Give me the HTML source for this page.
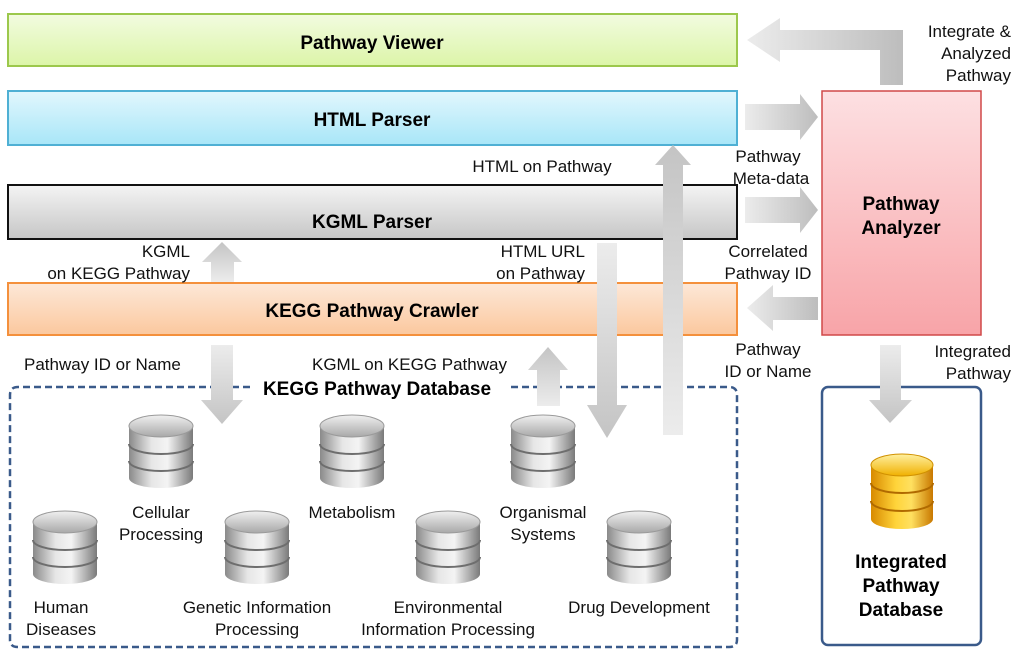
<!DOCTYPE html>
<html><head><meta charset="utf-8"><style>
html,body{margin:0;padding:0;background:#fff;}
svg text{font-family:"Liberation Sans",sans-serif;}
</style></head><body>
<svg width="1024" height="661" viewBox="0 0 1024 661" xmlns="http://www.w3.org/2000/svg">
<defs>
<linearGradient id="gG" x1="0" y1="0" x2="0" y2="1"><stop offset="0" stop-color="#f2fbe0"/><stop offset="1" stop-color="#dcf5a8"/></linearGradient>
<linearGradient id="gB" x1="0" y1="0" x2="0" y2="1"><stop offset="0" stop-color="#e2f7fd"/><stop offset="1" stop-color="#a8e6f8"/></linearGradient>
<linearGradient id="gK" x1="0" y1="0" x2="0" y2="1"><stop offset="0" stop-color="#f4f4f4"/><stop offset="1" stop-color="#c6c6c6"/></linearGradient>
<linearGradient id="gO" x1="0" y1="0" x2="0" y2="1"><stop offset="0" stop-color="#fde8d8"/><stop offset="1" stop-color="#fbc89e"/></linearGradient>
<linearGradient id="gP" x1="0" y1="0" x2="0" y2="1"><stop offset="0" stop-color="#fde0e2"/><stop offset="1" stop-color="#f8a4a8"/></linearGradient>
<linearGradient id="ah" x1="0" y1="0" x2="1" y2="0"><stop offset="0" stop-color="#ececec"/><stop offset="1" stop-color="#bdbdbd"/></linearGradient>
<linearGradient id="ahl" x1="1" y1="0" x2="0" y2="0"><stop offset="0" stop-color="#bdbdbd"/><stop offset="1" stop-color="#ececec"/></linearGradient>
<linearGradient id="av" x1="0" y1="0" x2="0" y2="1"><stop offset="0" stop-color="#c4c4c4"/><stop offset="1" stop-color="#ececec"/></linearGradient>
<linearGradient id="avd" x1="0" y1="0" x2="0" y2="1"><stop offset="0" stop-color="#ececec"/><stop offset="1" stop-color="#c4c4c4"/></linearGradient>
<linearGradient id="cyl" x1="0" y1="0" x2="1" y2="0"><stop offset="0" stop-color="#8a8a8a"/><stop offset="0.35" stop-color="#e6e6e6"/><stop offset="0.6" stop-color="#f4f4f4"/><stop offset="1" stop-color="#7a7a7a"/></linearGradient>
<linearGradient id="cylt" x1="0" y1="0" x2="0" y2="1"><stop offset="0" stop-color="#f0f0f0"/><stop offset="1" stop-color="#a8a8a8"/></linearGradient>
<linearGradient id="gold" x1="0" y1="0" x2="1" y2="0"><stop offset="0" stop-color="#d88a00"/><stop offset="0.4" stop-color="#ffd43a"/><stop offset="0.65" stop-color="#ffe060"/><stop offset="1" stop-color="#c87800"/></linearGradient>
<linearGradient id="goldt" x1="0" y1="0" x2="0" y2="1"><stop offset="0" stop-color="#fff0a0"/><stop offset="1" stop-color="#f0b000"/></linearGradient>
<g id="cy">
<path d="M-32,-26 L-32,26 A32,10 0 0 0 32,26 L32,-26 Z" fill="url(#cyl)"/>
<path d="M-32,-8 A32,10 0 0 0 32,-8 M-32,9 A32,10 0 0 0 32,9" fill="none" stroke="#6e6e6e" stroke-width="2"/>
<ellipse cx="0" cy="-26" rx="32" ry="11" fill="url(#cylt)" stroke="#9a9a9a" stroke-width="1"/>
</g>
</defs>

<!-- layer boxes -->
<rect x="8" y="14" width="729" height="52" fill="url(#gG)" stroke="#9cc84c" stroke-width="2"/>
<text x="372" y="49" font-size="19" font-weight="bold" text-anchor="middle">Pathway Viewer</text>
<rect x="8" y="91" width="729" height="54" fill="url(#gB)" stroke="#4fb0d4" stroke-width="2"/>
<text x="372" y="126" font-size="19" font-weight="bold" text-anchor="middle">HTML Parser</text>
<rect x="8" y="185" width="729" height="54" fill="url(#gK)" stroke="#111" stroke-width="2"/>
<text x="372" y="228" font-size="19" font-weight="bold" text-anchor="middle">KGML Parser</text>
<rect x="8" y="283" width="729" height="52" fill="url(#gO)" stroke="#f4903c" stroke-width="2"/>
<text x="372" y="317" font-size="19" font-weight="bold" text-anchor="middle">KEGG Pathway Crawler</text>

<rect x="822" y="91" width="159" height="244" fill="url(#gP)" stroke="#d04848" stroke-width="1.5"/>
<text x="901" y="210" font-size="19" font-weight="bold" text-anchor="middle">Pathway</text>
<text x="901" y="234" font-size="19" font-weight="bold" text-anchor="middle">Analyzer</text>

<!-- KEGG DB -->
<path d="M250,387 L18,387 Q10,387 10,395 L10,640 Q10,647 18,647 L729,647 Q737,647 737,640 L737,395 Q737,387 729,387 L508,387" fill="none" stroke="#3a5a8a" stroke-width="2.5" stroke-dasharray="7,4"/>
<text x="377" y="395" font-size="19" font-weight="bold" text-anchor="middle">KEGG Pathway Database</text>

<!-- Integrated DB -->
<rect x="822" y="387" width="159" height="258" rx="6" fill="#fff" stroke="#3a5a8a" stroke-width="2.5"/>

<!-- arrows -->
<path d="M880,85 L880,50 L780,50 L780,62 L747,40 L780,18 L780,30 L903,30 L903,85 Z" fill="url(#ahl)"/>
<path d="M745,104 L800,104 L800,94 L818,117 L800,140 L800,130 L745,130 Z" fill="url(#ah)"/>
<path d="M745,197 L800,197 L800,187 L818,210 L800,233 L800,223 L745,223 Z" fill="url(#ah)"/>
<path d="M818,297 L773,297 L773,285 L747,308 L773,331 L773,320 L818,320 Z" fill="url(#ahl)"/>
<path d="M211,282 L211,262 L202,262 L222,242 L242,262 L234,262 L234,282 Z" fill="url(#av)"/>
<path d="M663,435 L663,165 L655,165 L673,145 L691,165 L683,165 L683,435 Z" fill="url(#av)"/>
<path d="M597,243 L617,243 L617,405 L627,405 L607,438 L587,405 L597,405 Z" fill="url(#avd)"/>
<path d="M211,345 L233,345 L233,400 L243,400 L222,424 L201,400 L211,400 Z" fill="url(#avd)"/>
<path d="M537,406 L537,370 L528,370 L548,347 L568,370 L560,370 L560,406 Z" fill="url(#av)"/>
<path d="M880,345 L901,345 L901,400 L912,400 L890,423 L869,400 L880,400 Z" fill="url(#avd)"/>

<!-- labels -->
<g font-size="17" fill="#111">
<text x="1011" y="37" text-anchor="end">Integrate &amp;</text>
<text x="1011" y="59" text-anchor="end">Analyzed</text>
<text x="1011" y="81" text-anchor="end">Pathway</text>
<text x="542" y="172" text-anchor="middle">HTML on Pathway</text>
<text x="768" y="162" text-anchor="middle">Pathway</text>
<text x="771" y="184" text-anchor="middle">Meta-data</text>
<text x="190" y="257" text-anchor="end">KGML</text>
<text x="190" y="279" text-anchor="end">on KEGG Pathway</text>
<text x="585" y="257" text-anchor="end">HTML URL</text>
<text x="585" y="279" text-anchor="end">on Pathway</text>
<text x="768" y="257" text-anchor="middle">Correlated</text>
<text x="768" y="279" text-anchor="middle">Pathway ID</text>
<text x="24" y="370">Pathway ID or Name</text>
<text x="312" y="370">KGML on KEGG Pathway</text>
<text x="768" y="355" text-anchor="middle">Pathway</text>
<text x="768" y="377" text-anchor="middle">ID or Name</text>
<text x="1011" y="357" text-anchor="end">Integrated</text>
<text x="1011" y="379" text-anchor="end">Pathway</text>
</g>

<use href="#cy" x="161" y="452"/>
<use href="#cy" x="352" y="452"/>
<use href="#cy" x="543" y="452"/>
<use href="#cy" x="65" y="548"/>
<use href="#cy" x="257" y="548"/>
<use href="#cy" x="448" y="548"/>
<use href="#cy" x="639" y="548"/>

<g font-size="17" fill="#111" text-anchor="middle">
<text x="161" y="518">Cellular</text>
<text x="161" y="540">Processing</text>
<text x="352" y="518">Metabolism</text>
<text x="543" y="518">Organismal</text>
<text x="543" y="540">Systems</text>
<text x="61" y="613">Human</text>
<text x="61" y="635">Diseases</text>
<text x="257" y="613">Genetic Information</text>
<text x="257" y="635">Processing</text>
<text x="448" y="613">Environmental</text>
<text x="448" y="635">Information Processing</text>
<text x="639" y="613">Drug Development</text>
</g>

<g transform="translate(902,492)">
<path d="M-31,-27 L-31,27 A31,10 0 0 0 31,27 L31,-27 Z" fill="url(#gold)"/>
<path d="M-31,-9 A31,10 0 0 0 31,-9 M-31,9 A31,10 0 0 0 31,9" fill="none" stroke="#b06a00" stroke-width="2"/>
<ellipse cx="0" cy="-27" rx="31" ry="11" fill="url(#goldt)" stroke="#d09000"/>
</g>
<g font-size="19" font-weight="bold" text-anchor="middle">
<text x="901" y="568">Integrated</text>
<text x="901" y="592">Pathway</text>
<text x="901" y="616">Database</text>
</g>
</svg>
</body></html>
